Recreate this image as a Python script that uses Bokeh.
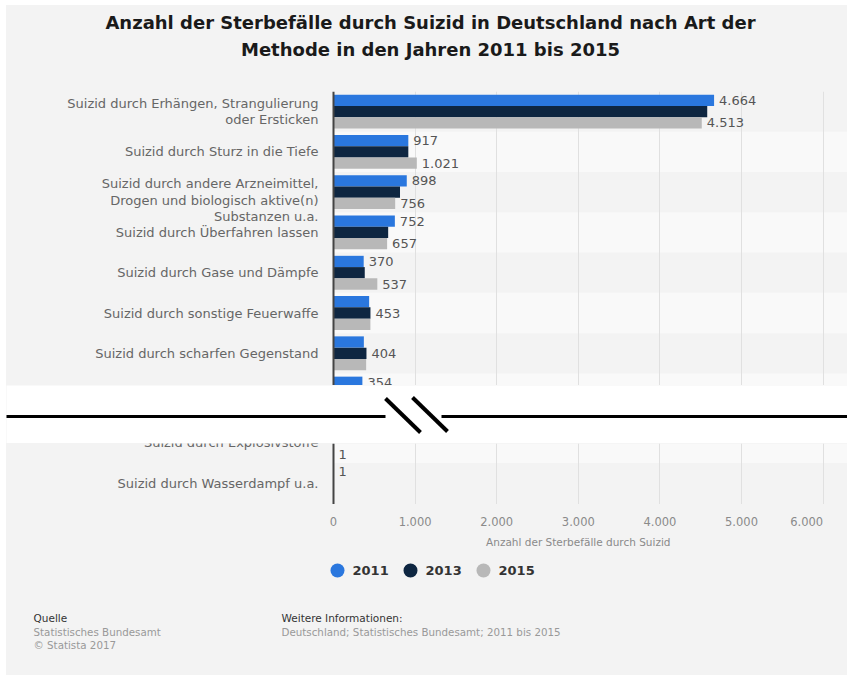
import math
from bokeh.plotting import figure
from bokeh.layouts import column
from bokeh.models import Range1d, FixedTicker, ColumnDataSource, Span
from bokeh.transform import dodge
from bokeh.core.properties import value
from bokeh.embed import file_html
from bokeh.resources import INLINE

NAN = float("nan")

# ---------------- data ----------------
title_lines = [
    "Anzahl der Sterbefälle durch Suizid in Deutschland nach Art der",
    "Methode in den Jahren 2011 bis 2015",
]
years = ["2011", "2013", "2015"]

top_labels = [
    "Suizid durch Erhängen, Strangulierung\noder Ersticken",
    "Suizid durch Sturz in die Tiefe",
    "\nSuizid durch andere Arzneimittel,\nDrogen und biologisch aktive(n)\nSubstanzen u.a.",
    "Suizid durch Überfahren lassen",
    "Suizid durch Gase und Dämpfe",
    "Suizid durch sonstige Feuerwaffe",
    "Suizid durch scharfen Gegenstand",
    "",  # row hidden behind the axis break
]
top_2011 = [4664, 917, 898, 752, 370, 437, 372, 354]
top_2013 = [4580, 917, 815, 670, 383, 453, 404, NAN]
top_2015 = [4513, 1021, 756, 657, 537, 452, 400, NAN]
top_show_2011 = [True, True, True, True, True, False, False, True]
top_show_2013 = [False, False, False, False, False, True, True, False]
top_show_2015 = [True, True, True, True, True, False, False, False]

bottom_labels = ["Suizid durch Explosivstoffe", "Suizid durch Wasserdampf u.a."]
bottom_2011 = [1, 1]
bottom_2013 = [1, 1]
bottom_2015 = [1, 1]
bottom_show_2011 = [False, True]
bottom_show_2013 = [False, False]
bottom_show_2015 = [True, False]

x_ticks = [0, 1000, 2000, 3000, 4000, 5000, 6000]
x_title = "Anzahl der Sterbefälle durch Suizid"
source_lines = ["Quelle", "Statistisches Bundesamt", "© Statista 2017"]
info_lines = ["Weitere Informationen:", "Deutschland; Statistisches Bundesamt; 2011 bis 2015"]

# ---------------- style / geometry ----------------
FONT = "DejaVu Sans"
BG = "#f3f3f3"
BAND = "#f9f9f9"
colors = ["#2a77de", "#0e2641", "#b8b8b8"]
W = 841
AXIS_PX = 327          # pixel position of the value 0
PX_PER_1000 = 81.6
X0 = -AXIS_PX * 1000 / PX_PER_1000
X1 = (W - AXIS_PX) * 1000 / PX_PER_1000
BAR = 0.28
HEAD_H, TOP_H, BRK_H, BOT_H, AX_H, FOOT_H = 86, 294, 58, 61, 50, 121


def de(v):
    return f"{v:,.0f}".replace(",", ".")


def base(height, x_range, y_range, bg=BG):
    p = figure(width=W, height=height, x_range=x_range, y_range=y_range,
               output_backend="svg", toolbar_location=None,
               min_border_left=0, min_border_right=0, min_border_top=0, min_border_bottom=0)
    p.axis.visible = False
    p.grid.visible = False
    p.outline_line_color = None
    p.background_fill_color = bg
    p.border_fill_color = bg
    return p


def chart(labels, series, shows, y_range, height, light_parity):
    n = len(labels)
    p = base(height, Range1d(X0, X1), y_range)
    idx = list(range(n))
    band_y = [i for i in idx if i % 2 == light_parity]
    p.hbar(y=band_y, left=0, right=X1, height=1, fill_color=BAND, line_color=None, level="image")
    p.xgrid.visible = True
    p.xgrid.ticker = FixedTicker(ticks=x_ticks[1:])
    p.xgrid.grid_line_color = "#e0e0e0"
    p.xgrid.grid_line_width = 1
    for vals, show, color, off in zip(series, shows, colors, [-BAR, 0, BAR]):
        txt = [de(v) if (s and not math.isnan(v)) else "" for v, s in zip(vals, show)]
        src = ColumnDataSource(dict(y=idx, v=vals, t=txt))
        p.hbar(y=dodge("y", off), left=0, right="v", height=BAR, source=src,
               fill_color=color, line_color=None)
        p.text(x="v", y=dodge("y", off), text="t", source=src, x_offset=5,
               text_baseline="middle", text_align="left", text_font=value(FONT),
               text_font_size="13px", text_color="#555555")
    # category labels (left of the value axis)
    p.text(x=[0] * n, y=idx, text=labels, x_offset=-15, text_align="right",
           text_baseline="middle", text_font=value(FONT), text_font_size="13px",
           text_color="#666666", text_line_height=1.1)
    p.add_layout(Span(location=0, dimension="height", line_color="#444444", line_width=2))
    return p


# header
head = base(HEAD_H, Range1d(0, W), Range1d(HEAD_H, 0))
head.text(x=[424, 424], y=[17, 44], text=title_lines, text_align="center", text_baseline="middle",
          text_font=value(FONT), text_font_style="bold", text_font_size="18px", text_color="#1a1a1a")

# upper part of the chart
top = chart(top_labels, [top_2011, top_2013, top_2015],
            [top_show_2011, top_show_2013, top_show_2015],
            Range1d(6.80, -0.5), TOP_H, 1)

# axis break
brk = base(BRK_H, Range1d(0, W), Range1d(BRK_H, 0), "#ffffff")
brk.segment(x0=[-5, 435], y0=[31, 31], x1=[379, W + 5], y1=[31, 31], line_width=3, line_color="black")
brk.segment(x0=[379, 406], y0=[13, 12], x1=[414, 441], y1=[47, 46], line_width=4, line_color="black")

# lower part of the chart
bot = chart(bottom_labels, [bottom_2011, bottom_2013, bottom_2015],
            [bottom_show_2011, bottom_show_2013, bottom_show_2015],
            Range1d(1.53, 0.017), BOT_H, 0)

# value axis labels
axf = base(AX_H, Range1d(X0, X1), Range1d(AX_H, 0))
axf.text(x=x_ticks[:-1], y=[17] * (len(x_ticks) - 1), text=[de(t) for t in x_ticks[:-1]],
         text_align="center", text_baseline="middle", text_font=value(FONT),
         text_font_size="11.5px", text_color="#8a8a8a")
axf.text(x=[x_ticks[-1]], y=[17], text=[de(x_ticks[-1])], text_align="right",
         text_baseline="middle", text_font=value(FONT), text_font_size="11.5px", text_color="#8a8a8a")
axf.text(x=[(x_ticks[0] + x_ticks[-1]) / 2], y=[37], text=[x_title], text_align="center",
         text_baseline="middle", text_font=value(FONT), text_font_size="10.5px", text_color="#8a8a8a")

# legend + footer
foot = base(FOOT_H, Range1d(0, W), Range1d(FOOT_H, 0))
legend_x = [331, 404, 477]
foot.scatter(x=legend_x, y=[16] * 3, size=14, marker="circle", fill_color=colors, line_color=None)
foot.text(x=[x + 15 for x in legend_x], y=[16] * 3, text=years, text_align="left",
          text_baseline="middle", text_font=value(FONT), text_font_style="bold",
          text_font_size="13px", text_color="#333333")
foot.text(x=[27], y=[63], text=[source_lines[0]], text_baseline="middle", text_font=value(FONT),
          text_font_size="10.5px", text_color="#333333")
foot.text(x=[27, 27], y=[77, 90], text=source_lines[1:], text_baseline="middle",
          text_font=value(FONT), text_font_size="10.3px", text_color="#999999")
foot.text(x=[275], y=[63], text=[info_lines[0]], text_baseline="middle", text_font=value(FONT),
          text_font_size="10.5px", text_color="#333333")
foot.text(x=[275], y=[77], text=[info_lines[1]], text_baseline="middle", text_font=value(FONT),
          text_font_size="10.3px", text_color="#999999")

layout = column(head, top, brk, bot, axf, foot, spacing=0, margin=(5, 0, 0, 6),
                styles={"background-color": BG})
open("out.html", "w").write(file_html(layout, INLINE))
